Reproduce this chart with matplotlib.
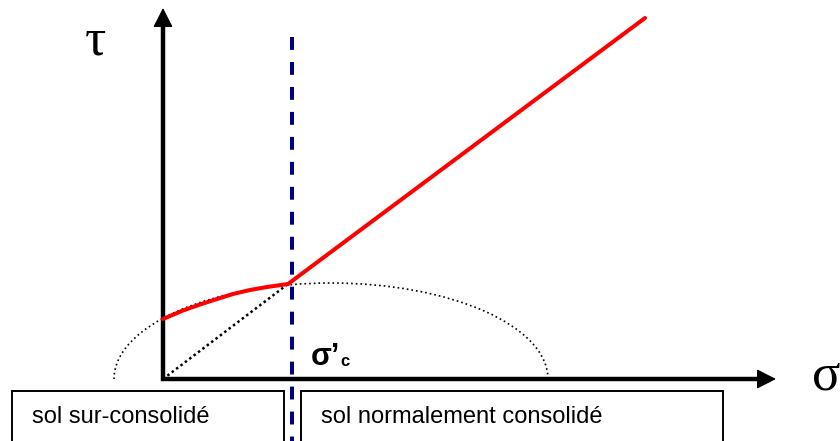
import numpy as np
import matplotlib
matplotlib.use("Agg")
import matplotlib.pyplot as plt
from matplotlib.patches import Arc, Rectangle

plt.rcParams['font.family'] = ['Liberation Sans', 'DejaVu Sans']

# courbe intrinseque, partie surconsolidee (sigma, tau)
sig_oc = [0.0, 0.20, 0.37, 0.54, 0.70, 0.87, 1.04, 1.25]
tau_oc = [0.60, 0.685, 0.745, 0.80, 0.85, 0.89, 0.92, 0.95]
# partie normalement consolidee (droite)
sig_nc = [1.25, 4.82]
tau_nc = [0.95, 3.61]

sig_c = 1.29                      # contrainte de preconsolidation
mohr_center, mohr_a, mohr_b = 1.68, 2.17, 0.96

labels_box = ["sol sur-consolidé", "sol normalement consolidé"]

fig = plt.figure(figsize=(8.4, 4.41), dpi=100)
ax = fig.add_axes([0, 0, 1, 1])
ax.set_xlim(-1.63, 6.77)
ax.set_ylim(-0.62, 3.79)
ax.axis('off')

# axes avec fleches
ax.plot([0, 0, 6.0], [3.6, 0, 0], color='k', lw=3.2,
        solid_joinstyle='miter', solid_capstyle='butt', zorder=3)
for tip, base in [((6.13, 0), (5.9, 0)), ((0, 3.71), (0, 3.5))]:
    ax.annotate('', xy=tip, xytext=base,
                arrowprops=dict(arrowstyle='-|>,head_length=0.55,head_width=0.28',
                                color='k', lw=1, mutation_scale=22,
                                shrinkA=0, shrinkB=0), zorder=3)

# cercle de Mohr et droite passant par l'origine
ax.add_patch(Arc((mohr_center, 0), 2 * mohr_a, 2 * mohr_b, theta1=0, theta2=180,
                 color='k', lw=1.2, ls=(0, (1, 1.8)), zorder=2))
ax.plot([0, sig_oc[-1]], [0, tau_oc[-1]], color='k', lw=1.8,
        ls=(0, (1, 1.2)), zorder=2)

# courbe intrinseque
ax.plot(sig_oc, tau_oc, color='red', lw=2.9, solid_capstyle='round',
        solid_joinstyle='round', zorder=4)
ax.plot(sig_nc, tau_nc, color='red', lw=2.9, solid_capstyle='round', zorder=4)

# sigma'c
ax.plot([sig_c, sig_c], [3.42, -0.8], color='#000080', lw=2.9,
        ls=(0, (3.2, 3.0)), zorder=5)

ax.text(-0.68, 3.38, "τ", family='Liberation Serif', fontsize=38,
        ha='center', va='center')
ax.text(6.63, 0.03, "σ", family='Liberation Serif', fontsize=38,
        ha='center', va='center')
ax.text(1.48, 0.14, "σ’", fontsize=22, fontweight='bold', va='baseline')
ax.text(1.77, 0.13, "c", fontsize=12, fontweight='bold', va='baseline')

# cadres
for (x0, x1), lab in zip([(-1.51, 1.21), (1.38, 5.60)], labels_box):
    ax.add_patch(Rectangle((x0, -0.9), x1 - x0, 0.78, fill=False,
                           ec='k', lw=1.4, zorder=1))
    ax.text(x0 + 0.20, -0.44, lab, fontsize=17, va='baseline')

fig.savefig("out.png", dpi=100)
